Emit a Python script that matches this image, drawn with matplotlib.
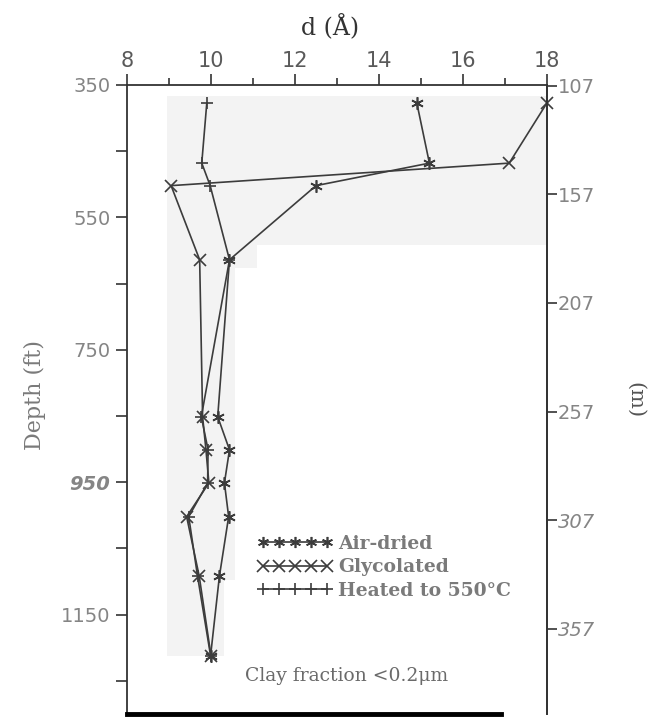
import numpy as np
import matplotlib.pyplot as plt

# depths (ft)
depth = [377, 468, 502, 614, 851, 901, 951, 1002, 1092, 1212]

air_dried = [14.9, 15.2, 12.5, 10.44, 10.16, 10.44, 10.32, 10.42, 10.2, 9.99]
glycolated = [18.0, 17.1, 9.05, 9.73, 9.8, 9.88, 9.95, 9.42, 9.72, 10.0]
heated = [9.9, 9.78, 9.98, 10.44, 9.77, 9.93, 9.92, 9.47, 9.68, 9.99]

top_ticks = [8, 10, 12, 14, 16, 18]
ft_ticks = [350, 550, 750, 950, 1150]
m_ticks = [107, 157, 207, 257, 307, 357]

# light grey patches of the scanned page (top depth, bottom depth, right edge)
shade = [(366, 592, 18.0), (592, 626, 11.1), (626, 1097, 10.56), (1097, 1213, 10.3)]

line_col = '#3c3c3c'
lab_col = '#858585'

fig = plt.figure(figsize=(6.58, 7.19), dpi=100)
ax = fig.add_axes([127 / 658, 1 - 714 / 719, 420 / 658, 629 / 719])

for top, bot, right in shade:
    ax.fill_betweenx([top, bot], 8.96, right, color='#f3f3f3', lw=0, zorder=0)

kw = dict(color=line_col, lw=1.2, mew=1.2, ms=9, clip_on=False)
l1, = ax.plot(air_dried, depth, marker=(6, 2, 0), label='Air-dried', **kw)
l2, = ax.plot(glycolated, depth, marker='x', label='Glycolated', **kw)
l3, = ax.plot(heated, depth, marker='+', label='Heated to 550°C', **kw)

ax.set_xlim(8, 18)
ax.set_ylim(1300, 350)

ax.xaxis.tick_top()
ax.set_xticks(top_ticks)
ax.set_xticks(np.arange(9, 18, 2), minor=True)
ax.tick_params(axis='x', which='major', direction='out', length=8, width=1.2,
               color='#333333', labelsize=15, labelcolor='#5a5a5a', pad=2)
ax.tick_params(axis='x', which='minor', direction='out', length=5, width=1.2, color='#333333')

ax.set_yticks(ft_ticks)
ax.set_yticks([450, 650, 850, 1050, 1250], minor=True)
ax.tick_params(axis='y', which='both', direction='out', length=8, width=1.2,
               color='#333333', labelsize=14, labelcolor=lab_col, pad=4)
for t in ax.get_yticklabels():
    if t.get_text() == '950':
        t.set_fontstyle('italic')
        t.set_fontweight('bold')

for s in ['left', 'top', 'right']:
    ax.spines[s].set_color('#333333')
    ax.spines[s].set_linewidth(1.3)
ax.spines['bottom'].set_bounds(8, 16.9)
ax.spines['bottom'].set_linewidth(3.5)
ax.spines['bottom'].set_color('black')
ax.tick_params(axis='x', bottom=False, labelbottom=False)

sec = ax.secondary_yaxis('right', functions=(lambda f: f * 0.3048, lambda m: m / 0.3048))
sec.set_yticks(m_ticks)
sec.set_yticklabels([str(v) for v in m_ticks])
sec.tick_params(direction='out', length=7, width=1.2, color='#333333',
                labelsize=14, labelcolor=lab_col, pad=1)
sec.spines['right'].set_color('#333333')
sec.spines['right'].set_linewidth(1.3)
for t in sec.get_yticklabels():
    if t.get_text() in ('307', '357'):
        t.set_fontstyle('italic')

fig.text(330 / 658, 1 - 27 / 719, 'd (Å)', family='DejaVu Serif', fontsize=17,
         color='#333333', ha='center', va='center')
fig.text(35 / 658, 1 - 395 / 719, 'Depth (ft)', family='DejaVu Serif', fontsize=16,
         color='#7a7a7a', rotation=90, ha='center', va='center')
fig.text(635 / 658, 1 - 400 / 719, '(m)', family='DejaVu Serif', fontsize=15,
         color='#555555', rotation=270, ha='center', va='center')
fig.text(245 / 658, 1 - 676 / 719, 'Clay fraction <0.2μm', family='DejaVu Serif',
         fontsize=13.5, color='#6a6a6a', ha='left', va='center')

leg = ax.legend(handles=[l1, l2, l3], loc='upper left', bbox_to_anchor=(0.31, 0.285),
                frameon=False, numpoints=5, handlelength=4.0, handletextpad=0.3,
                labelspacing=0.3, borderpad=0, borderaxespad=0,
                prop={'family': 'DejaVu Serif', 'size': 13.5, 'weight': 'bold'})
for t in leg.get_texts():
    t.set_color('#7a7a7a')
for h in leg.legend_handles:
    h.set_markersize(8)

fig.savefig('out.png', dpi=100)
